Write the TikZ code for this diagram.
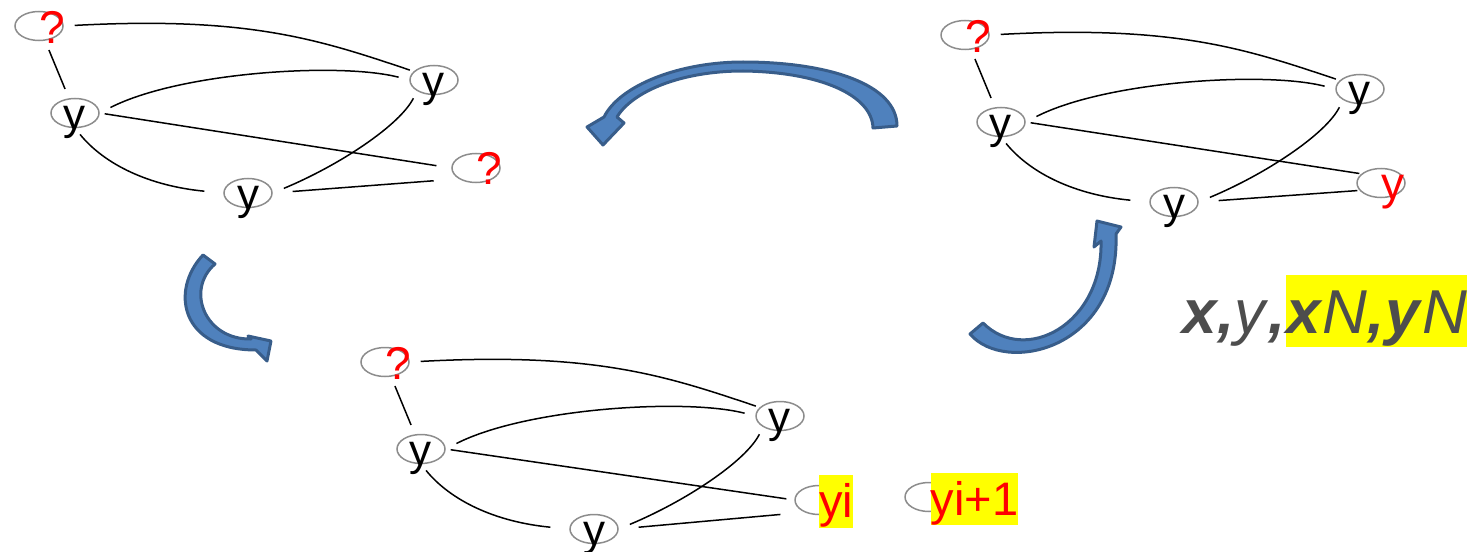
\documentclass[tikz,border=0pt]{standalone}
\usepackage{fontspec}
\setmainfont{Liberation Sans}
\usepackage{tikz}
\usetikzlibrary{shapes.geometric,positioning}
\definecolor{arrowfill}{HTML}{4F81BD}
\definecolor{arrowline}{HTML}{385D8A}
\definecolor{ringgray}{HTML}{8C8C8C}
\definecolor{labelgray}{HTML}{4D4D4D}
\definecolor{hiyellow}{HTML}{FFFF00}

\begin{document}
\begin{tikzpicture}[
    x=0.5pt, y=-0.5pt,
    vtx/.style={ellipse, draw=ringgray, line width=0.75pt, minimum width=24pt, minimum height=14.5pt, inner sep=0pt},
    blacklbl/.style={inner sep=0pt, font=\fontsize{22}{22}\selectfont},
    redlbl/.style={blacklbl, text=red, font=\fontsize{23}{23}\selectfont},
    hilbl/.style={inner sep=0pt, fill=hiyellow, text=red, text height=21.3pt, text depth=5pt, font=\fontsize{23.5}{23.5}\selectfont},
    coordlbl/.style={inner sep=0pt, text=labelgray, font=\fontsize{31}{31}\selectfont},
    link/.style={line width=0.75pt, shorten <=5pt, shorten >=5pt},
    bluearrow/.style={fill=arrowfill, draw=arrowline, line width=1.5pt, line join=round}
]
\useasboundingbox (0,0) rectangle (1476,551);

% top left graph
\begin{scope}[name prefix=tl-]
\node[vtx] (q1) at (39,26) {};
\node[vtx] (y1) at (75,113) {};
\node[vtx] (y2) at (434,80) {};
\node[vtx] (y3) at (248,193) {};
\node[vtx] (q2) at (476,168) {};
\node[redlbl] (q1t) at ([shift={(13,1)}]q1) {?};
\node[blacklbl] (y1t) at ([shift={(-1,9)}]y1) {y};
\node[blacklbl] (y2t) at ([shift={(-1,9)}]y2) {y};
\node[blacklbl] (y3t) at ([shift={(0,9)}]y3) {y};
\node[redlbl] (q2t) at ([shift={(13,0)}]q2) {?};
\draw[link, shorten <=5.5pt, shorten >=2pt] (q1.east) .. controls (250,16) and (320,40) .. (y2.157);
\draw[link] (q1) -- (y1);
\draw[link, shorten <=6pt, shorten >=5.5pt] (y1.east) .. controls (180,72) and (340,62) .. (y2.west);
\draw[link, shorten <=2.5pt, shorten >=7.5pt] (y1.east) -- (q2.west);
\draw[link, shorten <=4pt, shorten >=9.5pt] (y1.south) .. controls (105,165) and (150,186) .. (y3.west);
\draw[link, shorten <=6pt, shorten >=4pt] (y3.east) .. controls (340,165) and (400,125) .. (y2.213);
\draw[link, shorten <=10pt, shorten >=12.5pt] (y3.east) -- (q2.212);
\end{scope}

% top right graph
\begin{scope}[shift={(926,9)}, name prefix=tr-]
\node[vtx] (q1) at (39,26) {};
\node[vtx] (y1) at (75,113) {};
\node[vtx] (y2) at (434,80) {};
\node[vtx] (y3) at (248,193) {};
\node[vtx] (q2) at (455,174) {};
\node[redlbl] (q1t) at ([shift={(13,1)}]q1) {?};
\node[blacklbl] (y1t) at ([shift={(-1,9)}]y1) {y};
\node[blacklbl] (y2t) at ([shift={(-1,9)}]y2) {y};
\node[blacklbl] (y3t) at ([shift={(0,9)}]y3) {y};
\node[redlbl] (q2t) at ([shift={(12,9)}]q2) {y};
\draw[link, shorten <=5.5pt, shorten >=2pt] (q1.east) .. controls (250,16) and (320,40) .. (y2.157);
\draw[link] (q1) -- (y1);
\draw[link, shorten <=6pt, shorten >=5.5pt] (y1.east) .. controls (180,72) and (340,62) .. (y2.west);
\draw[link, shorten <=2.5pt, shorten >=1pt] (y1.east) -- (q2.155);
\draw[link, shorten <=4pt, shorten >=9.5pt] (y1.south) .. controls (105,165) and (150,186) .. (y3.west);
\draw[link, shorten <=6pt, shorten >=4pt] (y3.east) .. controls (340,165) and (400,125) .. (y2.213);
\draw[link, shorten <=10pt, shorten >=1pt] (y3.east) -- (q2.199);
\end{scope}

% bottom graph
\begin{scope}[shift={(346,336)}, name prefix=bt-]
\node[vtx] (q1) at (39,26) {};
\node[vtx] (y1) at (75,113) {};
\node[vtx] (y2) at (434,80) {};
\node[vtx] (y3) at (248,193) {};
\node[vtx] (yi) at (473,164) {};
\node[vtx] (yn) at (583,161) {};
\node[redlbl] (q1t) at ([shift={(13,1)}]q1) {?};
\node[blacklbl] (y1t) at ([shift={(-1,9)}]y1) {y};
\node[blacklbl] (y2t) at ([shift={(-1,9)}]y2) {y};
\node[blacklbl] (y3t) at ([shift={(0,9)}]y3) {y};
\node[hilbl] (yit) at ([shift={(17,1.5)}]yi) {yi};
\node[hilbl] (ynt) at ([shift={(45.5,2)}]yn) {yi+1};
\draw[link, shorten <=5.5pt, shorten >=2pt] (q1.east) .. controls (250,16) and (320,40) .. (y2.157);
\draw[link] (q1) -- (y1);
\draw[link, shorten <=6pt, shorten >=5.5pt] (y1.east) .. controls (180,72) and (340,62) .. (y2.west);
\draw[link, shorten <=2.5pt, shorten >=4pt] (y1.east) -- (yi.west);
\draw[link, shorten <=4pt, shorten >=9.5pt] (y1.south) .. controls (105,165) and (150,186) .. (y3.west);
\draw[link, shorten <=6pt, shorten >=4pt] (y3.east) .. controls (340,165) and (400,125) .. (y2.213);
\draw[link, shorten <=10pt, shorten >=12pt] (y3.east) -- (yi.220);
\end{scope}

% block arrows
\draw[bluearrow] (873,128) -- (897,126) .. controls (897,85) and (830,62) .. (743,62)
    .. controls (680,62) and (620,85) .. (604,117) -- (587,127) -- (603,145) -- (624,123) -- (617,117)
    .. controls (632,92) and (680,71) .. (743,71) .. controls (820,72) and (872,95) .. cycle;
\draw[bluearrow] (215,264) -- (203,255) .. controls (170,290) and (180,350) .. (256,350)
    -- (267,361) -- (271,341) -- (248,336) -- (251,339) .. controls (205,340) and (185,290) .. cycle;
\draw[bluearrow] (983,323) -- (970,334) .. controls (1005,375) and (1120,350) .. (1116,234)
    -- (1121,227) -- (1097,221) -- (1094,247) -- (1101,241) .. controls (1103,325) and (1025,365) .. cycle;

% coordinates label
\node[coordlbl, anchor=base east] (xy) at (1286,333) {\textbf{\textit{x,}}\textit{y}\textbf{\textit{,}}};
\node[coordlbl, fill=hiyellow, text height=29pt, text depth=7pt, anchor=base west] (xnyn) at (xy.base east)
    {\textbf{\textit{x}}\textit{N}\textbf{\textit{,y}}\textit{N}};
\end{tikzpicture}
\end{document}
